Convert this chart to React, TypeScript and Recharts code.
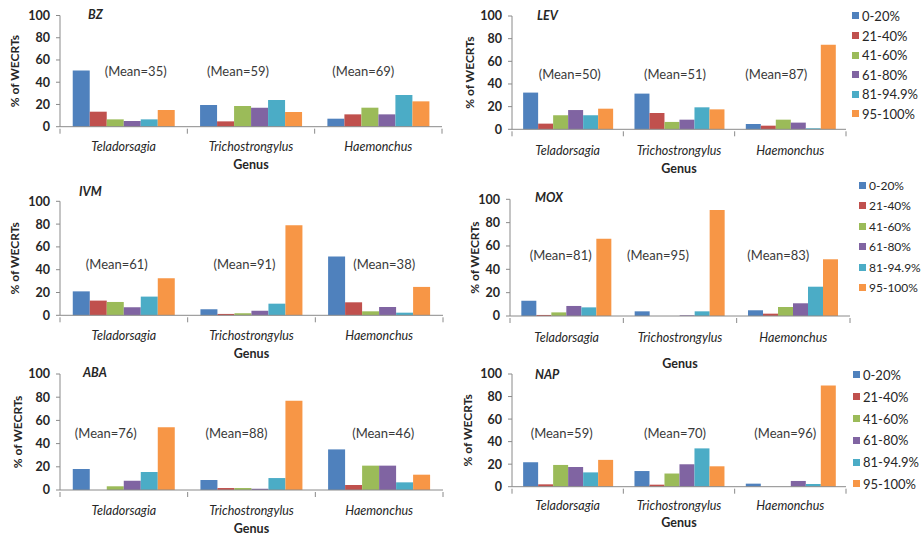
import React from 'react';
import { BarChart, Bar, XAxis, YAxis, Legend, ReferenceDot, Label } from 'recharts';

const GENERA = ['Teladorsagia', 'Trichostrongylus', 'Haemonchus'];
const CLASSES = ['0-20%', '21-40%', '41-60%', '61-80%', '81-94.9%', '95-100%'];
const Y_TICKS = [0, 20, 40, 60, 80, 100];

const BZ_VALUES = [
  [50.5, 13.5, 6.6, 5.1, 6.6, 15],
  [19.5, 4.8, 18.6, 17.1, 24, 13.2],
  [7.2, 11.1, 17.1, 11.1, 28.5, 22.8],
];
const BZ_MEANS = [35, 59, 69];

const LEV_VALUES = [
  [32.4, 5, 12.4, 17, 12.4, 18.2],
  [31.5, 14.4, 6.5, 8.5, 19.4, 17.6],
  [4.7, 3.2, 8.5, 5.9, 0.9, 74.7],
];
const LEV_MEANS = [50, 51, 87];

const IVM_VALUES = [
  [21, 12.9, 11.7, 7, 16.4, 32.5],
  [5.3, 1.2, 1.8, 4.1, 10.2, 79],
  [51.5, 11.4, 3.5, 7.3, 2.3, 24.9],
];
const IVM_MEANS = [61, 91, 38];

const MOX_VALUES = [
  [13.1, 0.9, 3.1, 8.6, 7.4, 66.3],
  [4, 0, 0, 0.6, 4, 90.9],
  [4.9, 2, 7.7, 10.9, 25.1, 48.6],
];
const MOX_MEANS = [81, 95, 83];

const ABA_VALUES = [
  [18.1, 0, 3.2, 8, 15.5, 54],
  [8.6, 1.7, 1.7, 1.1, 10.3, 77],
  [35, 4.3, 21, 21, 6.6, 13.2],
];
const ABA_MEANS = [76, 88, 46];

const NAP_VALUES = [
  [21.7, 2.1, 19.3, 17.5, 12.7, 23.8],
  [13.9, 1.8, 11.7, 19.9, 34, 18.1],
  [2.7, 0, 0, 5.1, 2.4, 89.8],
];
const NAP_MEANS = [59, 70, 96];

// styles
const COLORS = ['#4F81BD', '#C0504D', '#9BBB59', '#8064A2', '#4BACC6', '#F79646'];
const FONT = 'Lato, "Open Sans", sans-serif';
const TEXT = '#262626';
const AXIS = '#8a8a8a';

type Panel = {
  title: string;
  values: number[][];
  means: number[];
  box: [number, number, number, number];
  plot: [number, number, number, number];
  tickDy: number;
  genusDy: number;
  titlePos: [number, number];
  yLabelX: number;
  meanY: number;
  meanDx: number[];
  legend?: { x: number; y: number; step: number; font: number };
};

const PANELS: Panel[] = [
  {
    title: 'BZ', values: BZ_VALUES, means: BZ_MEANS,
    box: [0, 0, 460, 180], plot: [60, 442, 15.5, 126.7],
    tickDy: 18, genusDy: 38, titlePos: [88, 15], yLabelX: 15,
    meanY: 50, meanDx: [12, -13, -15],
  },
  {
    title: 'LEV', values: LEV_VALUES, means: LEV_MEANS,
    box: [460, 0, 461, 180], plot: [512, 846, 16, 129.3],
    tickDy: 19, genusDy: 39, titlePos: [537, 16], yLabelX: 470,
    meanY: 49, meanDx: [2, -4, -14],
    legend: { x: 852, y: 16, step: 19.6, font: 13 },
  },
  {
    title: 'IVM', values: IVM_VALUES, means: IVM_MEANS,
    box: [0, 180, 460, 180], plot: [60, 443, 201.3, 315.3],
    tickDy: 18, genusDy: 38, titlePos: [79, 192], yLabelX: 15,
    meanY: 45, meanDx: [-7, -7, 5],
  },
  {
    title: 'MOX', values: MOX_VALUES, means: MOX_MEANS,
    box: [460, 180, 461, 190], plot: [510, 850, 199.3, 316],
    tickDy: 19, genusDy: 47, titlePos: [535, 198], yLabelX: 475,
    meanY: 52, meanDx: [-6, -22, -15],
    legend: { x: 859, y: 185, step: 20.5, font: 12 },
  },
  {
    title: 'ABA', values: ABA_VALUES, means: ABA_MEANS,
    box: [0, 360, 460, 178], plot: [60, 443, 374, 490],
    tickDy: 18, genusDy: 38, titlePos: [83, 373], yLabelX: 17,
    meanY: 49, meanDx: [-18, -15, 4],
  },
  {
    title: 'NAP', values: NAP_VALUES, means: NAP_MEANS,
    box: [460, 360, 461, 178], plot: [512, 846, 374, 486.7],
    tickDy: 16.5, genusDy: 36, titlePos: [535, 375], yLabelX: 468,
    meanY: 48, meanDx: [-6, -4, -5],
    legend: { x: 853, y: 375, step: 21.8, font: 13 },
  },
];

function LegendBox({ step, font }: { step: number; font: number }) {
  return (
    <div style={{ fontFamily: FONT }}>
      {CLASSES.map((c, i) => (
        <div key={c} style={{ height: step, display: 'flex', alignItems: 'center', whiteSpace: 'nowrap' }}>
          <span style={{ display: 'inline-block', width: 7, height: 7, background: COLORS[i], marginRight: 3 }} />
          <span style={{ fontSize: font, color: TEXT }}>{c}</span>
        </div>
      ))}
    </div>
  );
}

function PanelChart({ p }: { p: Panel }) {
  const [bx, by, bw, bh] = p.box;
  const [pl, pr, pt, pb] = p.plot;
  const data = GENERA.map((g, gi) => {
    const row: Record<string, number | string> = { genus: g };
    CLASSES.forEach((_, ci) => {
      row['c' + ci] = p.values[gi][ci];
    });
    return row;
  });
  const band = (pr - pl) / GENERA.length;

  const renderTick = (props: any) => {
    const { x, y, payload, index } = props;
    return (
      <g>
        <line x1={x - band / 2} x2={x - band / 2} y1={y} y2={y + 5} stroke={AXIS} />
        {index === GENERA.length - 1 && (
          <line x1={x + band / 2} x2={x + band / 2} y1={y} y2={y + 5} stroke={AXIS} />
        )}
        <text x={x} y={y + p.tickDy} textAnchor="middle" dominantBaseline="central"
          fontStyle="italic" fontSize={12.5} fill={TEXT} fontFamily={FONT}>
          {payload.value}
        </text>
      </g>
    );
  };

  return (
    <div style={{ position: 'absolute', left: bx, top: by, width: bw, height: bh }}>
      <BarChart
        width={bw}
        height={bh}
        data={data}
        margin={{ top: pt - by, right: bx + bw - pr, bottom: 0, left: 0 }}
        barCategoryGap="10%"
        barGap={0}
      >
        <XAxis
          dataKey="genus"
          height={by + bh - pb}
          interval={0}
          tickLine={false}
          tickSize={0}
          axisLine={{ stroke: AXIS }}
          tick={renderTick}
        >
          <Label
            content={(lp: any) => {
              const vb = lp.viewBox || {};
              return (
                <text x={vb.x + vb.width / 2} y={vb.y + p.genusDy} textAnchor="middle"
                  dominantBaseline="central" fontWeight={700} fontSize={12.5} fill={TEXT} fontFamily={FONT}>
                  Genus
                </text>
              );
            }}
          />
        </XAxis>
        <YAxis
          type="number"
          domain={[0, 100]}
          ticks={Y_TICKS}
          interval={0}
          width={pl - bx}
          tickSize={4}
          tickMargin={6}
          axisLine={{ stroke: AXIS }}
          tickLine={{ stroke: AXIS }}
          tick={{ fontSize: 12.5, fontWeight: 700, fill: TEXT, fontFamily: FONT }}
        >
          <Label
            content={(lp: any) => {
              const vb = lp.viewBox || {};
              const cx = p.yLabelX - bx;
              const cy = vb.y + vb.height / 2;
              return (
                <text x={cx} y={cy} transform={`rotate(-90 ${cx} ${cy})`} textAnchor="middle"
                  dominantBaseline="central" fontWeight={700} fontSize={12} fill={TEXT} fontFamily={FONT}>
                  % of WECRTs
                </text>
              );
            }}
          />
        </YAxis>
        {CLASSES.map((c, ci) => (
          <Bar key={c} dataKey={'c' + ci} name={c} fill={COLORS[ci]} isAnimationActive={false} />
        ))}
        {GENERA.map((g, gi) => (
          <ReferenceDot
            key={g}
            x={g}
            y={p.meanY}
            r={0}
            fill="none"
            stroke="none"
            label={(lp: any) => {
              const vb = lp.viewBox || {};
              const cx = (vb.x || 0) + (vb.width || 0) / 2 + p.meanDx[gi];
              const cy = (vb.y || 0) + (vb.height || 0) / 2;
              return (
                <text x={cx} y={cy} textAnchor="middle" dominantBaseline="central"
                  fontSize={13} fill="#3a3a3a" fontFamily={FONT}>
                  {`(Mean=${p.means[gi]})`}
                </text>
              );
            }}
          />
        ))}
        {p.legend && (
          <Legend
            layout="horizontal"
            verticalAlign="middle"
            align="center"
            wrapperStyle={{
              left: p.legend.x - bx,
              top: p.legend.y - by - p.legend.step / 2,
              width: 'auto',
              height: 'auto',
            }}
            content={() => <LegendBox step={p.legend!.step} font={p.legend!.font} />}
          />
        )}
      </BarChart>
      <div
        style={{
          position: 'absolute',
          left: p.titlePos[0] - bx,
          top: p.titlePos[1] - by - 8,
          fontFamily: FONT,
          fontWeight: 700,
          fontStyle: 'italic',
          fontSize: 12.5,
          color: TEXT,
          lineHeight: '16px',
        }}
      >
        {p.title}
      </div>
    </div>
  );
}

export default function App() {
  return (
    <div style={{ position: 'absolute', left: 0, top: 0, width: 921, height: 538, background: '#fff', overflow: 'hidden' }}>
      {PANELS.map((p) => (
        <PanelChart key={p.title} p={p} />
      ))}
    </div>
  );
}
